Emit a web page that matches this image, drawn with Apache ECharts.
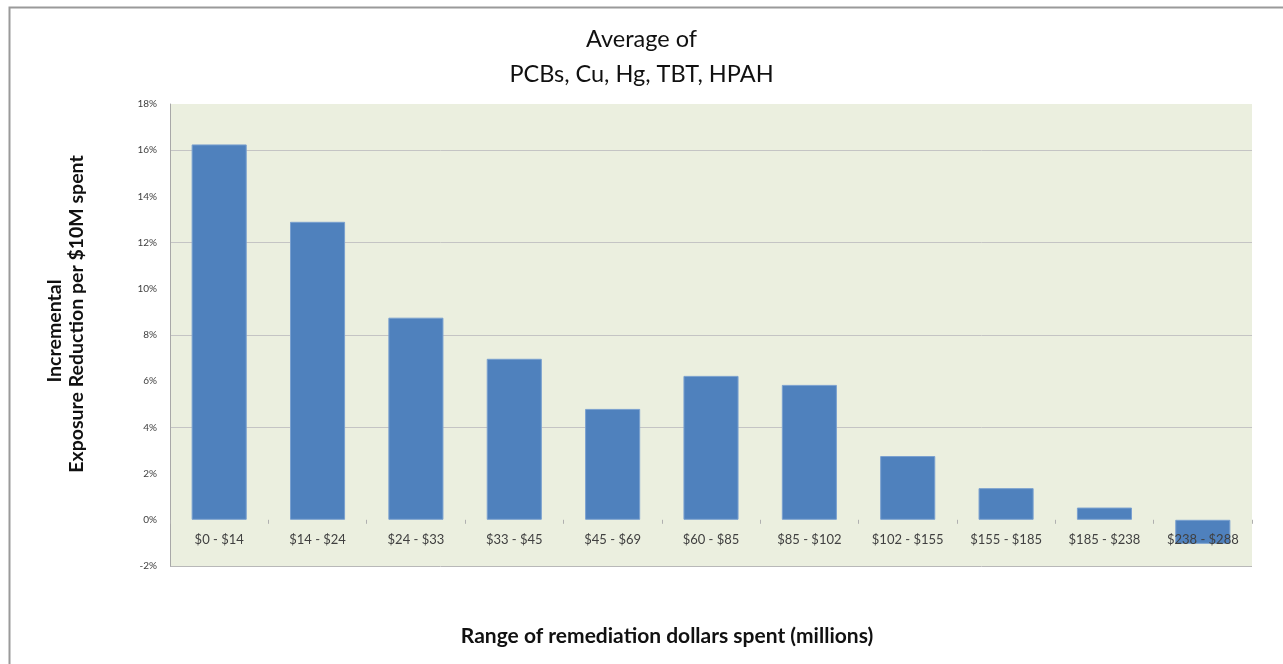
<!DOCTYPE html>
<html>
<head>
<meta charset="utf-8">
<script src="https://cdn.jsdelivr.net/npm/echarts@6/dist/echarts.min.js"></script>
<style>
html,body{margin:0;padding:0;background:#fff;}
#chart{width:1283px;height:664px;}
</style>
</head>
<body>
<div id="chart"></div>
<script>
const titleLines = ['Average of', 'PCBs, Cu, Hg, TBT, HPAH'];
const categories = ['$0 - $14','$14 - $24','$24 - $33','$33 - $45','$45 - $69','$60 - $85','$85 - $102','$102 - $155','$155 - $185','$185 - $238','$238 - $288'];
const values = [16.25, 12.9, 8.75, 6.97, 4.8, 6.23, 5.84, 2.76, 1.37, 0.53, -1.04];
const yTitleLines = ['Incremental', 'Exposure Reduction per $10M spent'];
const xTitle = 'Range of remediation dollars spent (millions)';

const FONT = 'Lato, "Open Sans", sans-serif';
const chart = echarts.init(document.getElementById('chart'));
// gridline colours for ticks -2,0,2,...,18 : lines only at multiples of 4 (not 0), plus bottom border
const gridColors = ['#b8b8b8','rgba(0,0,0,0)','rgba(0,0,0,0)','#c4c4c4','rgba(0,0,0,0)','#c4c4c4','rgba(0,0,0,0)','#c4c4c4','rgba(0,0,0,0)','#c4c4c4','rgba(0,0,0,0)'];
chart.setOption({
  backgroundColor: '#ffffff',
  animation: false,
  title: {
    text: titleLines.join('\n'),
    left: 'center',
    top: 17,
    textStyle: {fontFamily: FONT, fontSize: 23.5, fontWeight: 'normal', color: '#111', lineHeight: 35}
  },
  graphic: [
    {type: 'rect', left: 7, top: 5, shape: {width: 1276, height: 680}, style: {fill: 'none', stroke: '#9a9a9a', lineWidth: 2}, silent: true},
    {type: 'text', x: 55, y: 331, rotation: Math.PI/2,
     style: {text: yTitleLines[0], font: 'bold 19.5px ' + FONT, fill: '#111', align: 'center', verticalAlign: 'middle'}},
    {type: 'text', x: 77, y: 314, rotation: Math.PI/2,
     style: {text: yTitleLines[1], font: 'bold 19.5px ' + FONT, fill: '#111', align: 'center', verticalAlign: 'middle'}},
    {type: 'text', x: 667, y: 636,
     style: {text: xTitle, font: 'bold 21px ' + FONT, fill: '#111', align: 'center', verticalAlign: 'middle'}}
  ],
  grid: {left: 170, right: 31, top: 104, bottom: 98, show: true, backgroundColor: '#ebefdf', borderWidth: 0},
  xAxis: {
    type: 'category',
    data: categories,
    z: 5,
    axisLine: {show: true, onZero: true, lineStyle: {color: 'rgba(0,0,0,0)'}},
    axisTick: {show: true, length: 4, inside: false, lineStyle: {color: '#b0b0b0'}},
    axisLabel: {fontFamily: FONT, fontSize: 13, color: '#404040', margin: -33, interval: 0},
    splitLine: {show: false}
  },
  yAxis: {
    type: 'value',
    min: -2, max: 18, interval: 2,
    axisLine: {show: true, lineStyle: {color: '#a8a8a8', width: 1}},
    axisTick: {show: false},
    axisLabel: {fontFamily: FONT, fontSize: 10, color: '#404040', margin: 13, formatter: '{value}%'},
    splitLine: {show: true, lineStyle: {color: gridColors, width: 1}}
  },
  series: [{
    type: 'bar',
    data: values,
    barCategoryGap: '44%',
    itemStyle: {color: '#4f81bd', borderColor: '#7aa0cf', borderWidth: 1}
  }]
});
</script>
</body>
</html>
